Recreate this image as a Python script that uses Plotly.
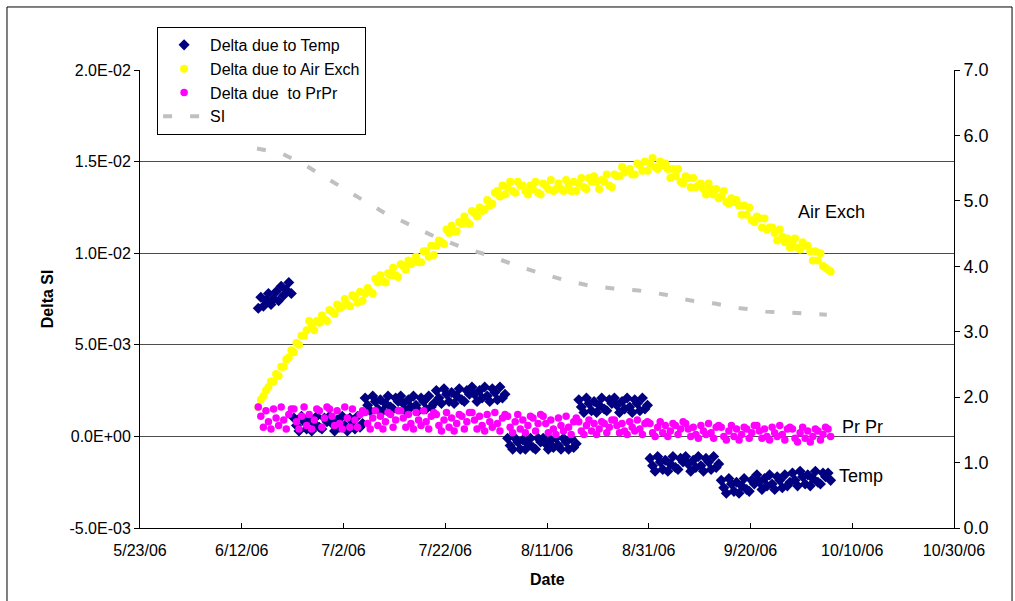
import pandas as pd
import plotly.graph_objects as go

# ---- readings every 12 hours, 06:00 / 18:00, from 6/15/06 to 10/5/06 ----
N_SAMPLES = 226
sample_times = pd.date_range("2006-06-15 06:00", periods=N_SAMPLES, freq="12h")

# ---- Delta due to Temp ----
temp_delta = [
    # 6/15 - 6/21
    0.0070, 0.0076, 0.0071, 0.0074, 0.0078, 0.0072, 0.0075, 0.0079, 0.0074, 0.0082, 0.0077, 0.0080, 0.0084, 0.0078,
    # 6/22 - 7/5
    0.0010, 0.0006, 0.0003, 0.0011, 0.0008, 0.0004, 0.0009, 0.0003, 0.0007, 0.0011, 0.0005, 0.0004, 0.0010, 0.0008,
    0.0011, 0.0007, 0.0003, 0.0009, 0.0005, 0.0011, 0.0006, 0.0003, 0.0010, 0.0008, 0.0004, 0.0011, 0.0005, 0.0007,
    # 7/6 - 7/19
    0.0021, 0.0017, 0.0014, 0.0022, 0.0019, 0.0015, 0.0020, 0.0014, 0.0018, 0.0022, 0.0016, 0.0015, 0.0021, 0.0019,
    0.0022, 0.0018, 0.0014, 0.0020, 0.0016, 0.0022, 0.0017, 0.0014, 0.0021, 0.0019, 0.0015, 0.0022, 0.0016, 0.0018,
    # 7/20 - 8/2
    0.0025, 0.0021, 0.0018, 0.0026, 0.0023, 0.0019, 0.0024, 0.0018, 0.0022, 0.0026, 0.0020, 0.0019, 0.0025, 0.0023,
    0.0027, 0.0023, 0.0019, 0.0025, 0.0021, 0.0027, 0.0022, 0.0019, 0.0026, 0.0024, 0.0020, 0.0027, 0.0021, 0.0023,
    # 8/3 - 8/16
    -0.0001, -0.0005, -0.0007, -0.0001, -0.0003, -0.0007, -0.0002, -0.0007, -0.0004, -0.0001, -0.0006, -0.0007, -0.0001, -0.0003,
    -0.0001, -0.0004, -0.0007, -0.0002, -0.0006, -0.0001, -0.0005, -0.0007, -0.0001, -0.0003, -0.0007, -0.0001, -0.0006, -0.0004,
    # 8/17 - 8/30
    0.0020, 0.0016, 0.0013, 0.0021, 0.0018, 0.0014, 0.0019, 0.0013, 0.0017, 0.0021, 0.0015, 0.0014, 0.0020, 0.0018,
    0.0021, 0.0017, 0.0013, 0.0019, 0.0015, 0.0021, 0.0016, 0.0013, 0.0020, 0.0018, 0.0014, 0.0021, 0.0015, 0.0017,
    # 8/31 - 9/13
    -0.0012, -0.0016, -0.0019, -0.0011, -0.0014, -0.0018, -0.0013, -0.0019, -0.0015, -0.0011, -0.0017, -0.0018, -0.0012, -0.0014,
    -0.0011, -0.0015, -0.0019, -0.0013, -0.0017, -0.0011, -0.0016, -0.0019, -0.0012, -0.0014, -0.0018, -0.0011, -0.0017, -0.0015,
    # 9/14 - 10/5
    -0.0024, -0.0028, -0.0031, -0.0023, -0.0026, -0.0030, -0.0025, -0.0031, -0.0027, -0.0023, -0.0029, -0.0030, -0.0024, -0.0026,
    -0.0021, -0.0025, -0.0029, -0.0023, -0.0027, -0.0021, -0.0026, -0.0029, -0.0022, -0.0024, -0.0028, -0.0021, -0.0027, -0.0025,
    -0.0020, -0.0024, -0.0027, -0.0019, -0.0022, -0.0026, -0.0021, -0.0027, -0.0023, -0.0019, -0.0025, -0.0026, -0.0020, -0.0022,
    -0.0020, -0.0024,
]

# ---- Delta due to Air Exch ----
air_exch_delta = [
    0.0016, 0.0020, 0.0022, 0.0025, 0.0027, 0.0030, 0.0030, 0.0034, 0.0033, 0.0038,
    0.0038, 0.0042, 0.0043, 0.0047, 0.0046, 0.0051, 0.0050, 0.0055, 0.0055, 0.0058,
    0.0063, 0.0060, 0.0058, 0.0063, 0.0062, 0.0066, 0.0064, 0.0063, 0.0069, 0.0068,
    0.0067, 0.0072, 0.0070, 0.0071, 0.0075, 0.0072, 0.0071, 0.0077, 0.0076, 0.0073,
    0.0079, 0.0074, 0.0078, 0.0081, 0.0079, 0.0078, 0.0086, 0.0084, 0.0088, 0.0085,
    0.0084, 0.0089, 0.0088, 0.0092, 0.0088, 0.0087, 0.0094, 0.0093, 0.0091, 0.0096,
    0.0094, 0.0095, 0.0098, 0.0095, 0.0095, 0.0101, 0.0101, 0.0098, 0.0104, 0.0099,
    0.0104, 0.0107, 0.0106, 0.0105, 0.0113, 0.0111, 0.0115, 0.0112, 0.0112, 0.0117,
    0.0116, 0.0120, 0.0117, 0.0116, 0.0123, 0.0122, 0.0120, 0.0125, 0.0123, 0.0124,
    0.0129, 0.0126, 0.0127, 0.0133, 0.0134, 0.0131, 0.0137, 0.0132, 0.0136, 0.0139,
    0.0134, 0.0133, 0.0139, 0.0137, 0.0137, 0.0134, 0.0132, 0.0137, 0.0135, 0.0139,
    0.0133, 0.0132, 0.0138, 0.0137, 0.0135, 0.0140, 0.0134, 0.0135, 0.0138, 0.0135,
    0.0134, 0.0140, 0.0137, 0.0134, 0.0139, 0.0134, 0.0138, 0.0141, 0.0136, 0.0135,
    0.0141, 0.0139, 0.0142, 0.0139, 0.0135, 0.0140, 0.0139, 0.0143, 0.0137, 0.0136,
    0.0143, 0.0142, 0.0142, 0.0147, 0.0144, 0.0145, 0.0146, 0.0143, 0.0143, 0.0149,
    0.0148, 0.0145, 0.0150, 0.0145, 0.0149, 0.0152, 0.0147, 0.0146, 0.0150, 0.0148,
    0.0149, 0.0146, 0.0141, 0.0146, 0.0142, 0.0146, 0.0139, 0.0138, 0.0142, 0.0141,
    0.0136, 0.0141, 0.0136, 0.0137, 0.0138, 0.0135, 0.0132, 0.0138, 0.0135, 0.0132,
    0.0135, 0.0130, 0.0131, 0.0134, 0.0128, 0.0127, 0.0130, 0.0128, 0.0129, 0.0126,
    0.0121, 0.0126, 0.0121, 0.0125, 0.0118, 0.0117, 0.0120, 0.0119, 0.0114, 0.0119,
    0.0113, 0.0114, 0.0114, 0.0111, 0.0107, 0.0113, 0.0109, 0.0106, 0.0108, 0.0103,
    0.0105, 0.0108, 0.0103, 0.0102, 0.0106, 0.0104, 0.0104, 0.0101, 0.0096, 0.0101,
    0.0096, 0.0100, 0.0093, 0.0092, 0.0091, 0.0090,
]

# ---- Delta due to PrPr ----
prpr_delta = [
    0.0016, 0.0011, 0.0005, 0.0014, 0.0008, 0.0004, 0.0015, 0.0010, 0.0006, 0.0016, 0.0009, 0.0004, 0.0012, 0.0015,
    0.0015, 0.0008, 0.0004, 0.0011, 0.0016, 0.0006, 0.0012, 0.0004, 0.0009, 0.0015, 0.0014, 0.0005, 0.0010, 0.0016,
    0.0015, 0.0011, 0.0006, 0.0014, 0.0007, 0.0004, 0.0016, 0.0010, 0.0005, 0.0015, 0.0009, 0.0005, 0.0012, 0.0014,
    0.0013, 0.0007, 0.0004, 0.0010, 0.0014, 0.0006, 0.0011, 0.0004, 0.0008, 0.0013, 0.0012, 0.0005, 0.0009, 0.0014,
    0.0014, 0.0010, 0.0005, 0.0012, 0.0007, 0.0004, 0.0013, 0.0009, 0.0006, 0.0014, 0.0008, 0.0004, 0.0011, 0.0013,
    0.0012, 0.0006, 0.0003, 0.0009, 0.0013, 0.0005, 0.0010, 0.0003, 0.0007, 0.0012, 0.0011, 0.0004, 0.0008, 0.0013,
    0.0013, 0.0009, 0.0004, 0.0011, 0.0006, 0.0003, 0.0012, 0.0008, 0.0005, 0.0013, 0.0007, 0.0003, 0.0010, 0.0012,
    0.0011, 0.0005, 0.0002, 0.0008, 0.0012, 0.0004, 0.0009, 0.0002, 0.0006, 0.0011, 0.0010, 0.0003, 0.0007, 0.0012,
    0.0011, 0.0007, 0.0002, 0.0009, 0.0004, 0.0001, 0.0010, 0.0006, 0.0003, 0.0011, 0.0005, 0.0001, 0.0008, 0.0010,
    0.0008, 0.0003, 0.0001, 0.0006, 0.0009, 0.0003, 0.0007, 0.0001, 0.0004, 0.0008, 0.0007, 0.0002, 0.0005, 0.0009,
    0.0009, 0.0006, 0.0002, 0.0007, 0.0003, 0.0001, 0.0008, 0.0005, 0.0003, 0.0009, 0.0004, 0.0001, 0.0007, 0.0008,
    0.0007, 0.0002, 0.0000, 0.0005, 0.0008, 0.0002, 0.0006, 0.0000, 0.0003, 0.0007, 0.0006, 0.0001, 0.0004, 0.0008,
    0.0007, 0.0004, 0.0000, 0.0005, 0.0001, -0.0001, 0.0006, 0.0003, 0.0001, 0.0007, 0.0002, -0.0001, 0.0005, 0.0006,
    0.0005, 0.0000, -0.0002, 0.0003, 0.0006, 0.0000, 0.0004, -0.0002, 0.0001, 0.0005, 0.0004, -0.0001, 0.0002, 0.0006,
    0.0006, 0.0003, -0.0001, 0.0004, 0.0000, -0.0002, 0.0005, 0.0002, 0.0000, 0.0006, 0.0001, -0.0002, 0.0004, 0.0005,
    0.0004, -0.0001, -0.0003, 0.0002, 0.0005, -0.0001, 0.0003, -0.0003, 0.0000, 0.0004, 0.0003, -0.0002, 0.0001, 0.0005,
    0.0004, 0.0000,
]

# ---- SI (right axis) ----
si_dates = [
    "2006-06-15", "2006-06-20", "2006-06-25", "2006-06-30", "2006-07-05", "2006-07-10",
    "2006-07-15", "2006-07-20", "2006-07-25", "2006-07-30", "2006-08-04", "2006-08-09",
    "2006-08-14", "2006-08-19", "2006-08-24", "2006-08-29", "2006-09-03", "2006-09-08",
    "2006-09-13", "2006-09-18", "2006-09-23", "2006-09-28", "2006-10-03", "2006-10-05",
]
si_values = [
    5.80, 5.72, 5.52, 5.28, 5.05, 4.82, 4.63, 4.45, 4.30, 4.18, 4.04, 3.91,
    3.80, 3.71, 3.66, 3.63, 3.57, 3.48, 3.43, 3.36, 3.31, 3.29, 3.27, 3.26,
]

# ---- axis ticks ----
x_tick_dates = ["2006-05-23", "2006-06-12", "2006-07-02", "2006-07-22", "2006-08-11",
                "2006-08-31", "2006-09-20", "2006-10-10", "2006-10-30"]
x_tick_labels = ["5/23/06", "6/12/06", "7/2/06", "7/22/06", "8/11/06",
                 "8/31/06", "9/20/06", "10/10/06", "10/30/06"]
left_ticks = [-0.005, 0.0, 0.005, 0.01, 0.015, 0.02]
left_labels = ["-5.0E-03", "0.0E+00", "5.0E-03", "1.0E-02", "1.5E-02", "2.0E-02"]
right_ticks = [0, 1, 2, 3, 4, 5, 6, 7]
right_labels = ["0.0", "1.0", "2.0", "3.0", "4.0", "5.0", "6.0", "7.0"]

FONT = "Liberation Sans, Arial, sans-serif"

fig = go.Figure()
fig.add_trace(go.Scatter(x=sample_times, y=temp_delta, mode="markers", name="Delta due to Temp",
                         marker=dict(symbol="diamond", size=8.5, color="#000080")))
fig.add_trace(go.Scatter(x=sample_times, y=air_exch_delta, mode="markers", name="Delta due to Air Exch",
                         marker=dict(symbol="circle", size=8, color="#FFFF00")))
fig.add_trace(go.Scatter(x=sample_times, y=prpr_delta, mode="markers", name="Delta due  to PrPr",
                         marker=dict(symbol="circle", size=7.5, color="#FF00FF")))
fig.add_trace(go.Scatter(x=si_dates, y=si_values, mode="lines", name="SI", yaxis="y2",
                         line=dict(color="#C0C0C0", width=4, dash="9px,18px")))

fig.update_layout(
    width=1015, height=601,
    margin=dict(l=140, r=61, t=70, b=73),
    paper_bgcolor="white", plot_bgcolor="white",
    font=dict(family=FONT, color="black", size=16),
    hovermode=False,
    legend=dict(x=0.021, y=1.094, xanchor="left", yanchor="top",
                bordercolor="black", borderwidth=1, bgcolor="white",
                font=dict(size=16, family=FONT), itemwidth=42),
    xaxis=dict(type="date", range=["2006-05-23", "2006-10-30"],
               tickvals=x_tick_dates, ticktext=x_tick_labels,
               ticks="inside", ticklen=5, tickcolor="black",
               showline=True, linecolor="black", linewidth=1,
               showgrid=False, zeroline=False,
               tickfont=dict(size=16), ticklabelstandoff=8),
    yaxis=dict(range=[-0.005, 0.02], tickvals=left_ticks, ticktext=left_labels,
               ticks="outside", ticklen=5, tickcolor="black",
               showline=True, linecolor="black", linewidth=1,
               showgrid=True, gridcolor="#4d4d4d", gridwidth=1, zeroline=False,
               tickfont=dict(size=16)),
    yaxis2=dict(range=[0, 7], tickvals=right_ticks, ticktext=right_labels,
                overlaying="y", side="right",
                ticks="outside", ticklen=5, tickcolor="black",
                showline=True, linecolor="black", linewidth=1,
                showgrid=False, zeroline=False, tickfont=dict(size=18)),
)

annotations = [
    dict(text="<b>Delta SI</b>", x=-0.114, y=0.5, xref="paper", yref="paper",
         xanchor="center", yanchor="middle", textangle=-90, showarrow=False,
         font=dict(size=16)),
    dict(text="<b>Date</b>", x=0.5, y=-0.1135, xref="paper", yref="paper",
         xanchor="center", yanchor="middle", showarrow=False, font=dict(size=16)),
    dict(text="Air Exch", x="2006-09-29", y=0.01223, xanchor="left",
         showarrow=False, font=dict(size=18)),
    dict(text="Pr Pr", x="2006-10-07 12:00", y=0.00049, xanchor="left",
         showarrow=False, font=dict(size=18)),
    dict(text="Temp", x="2006-10-07", y=-0.00218, xanchor="left",
         showarrow=False, font=dict(size=18)),
]
fig.update_layout(annotations=annotations)

# chart frame (left, top and right edges of the chart area)
fig.add_shape(type="path", xref="paper", yref="paper",
              path="M -0.1634 -0.2 L -0.1634 1.1376 L 1.0713 1.1376 L 1.0713 -0.2",
              line=dict(color="black", width=1))

fig.write_html("out.html")
